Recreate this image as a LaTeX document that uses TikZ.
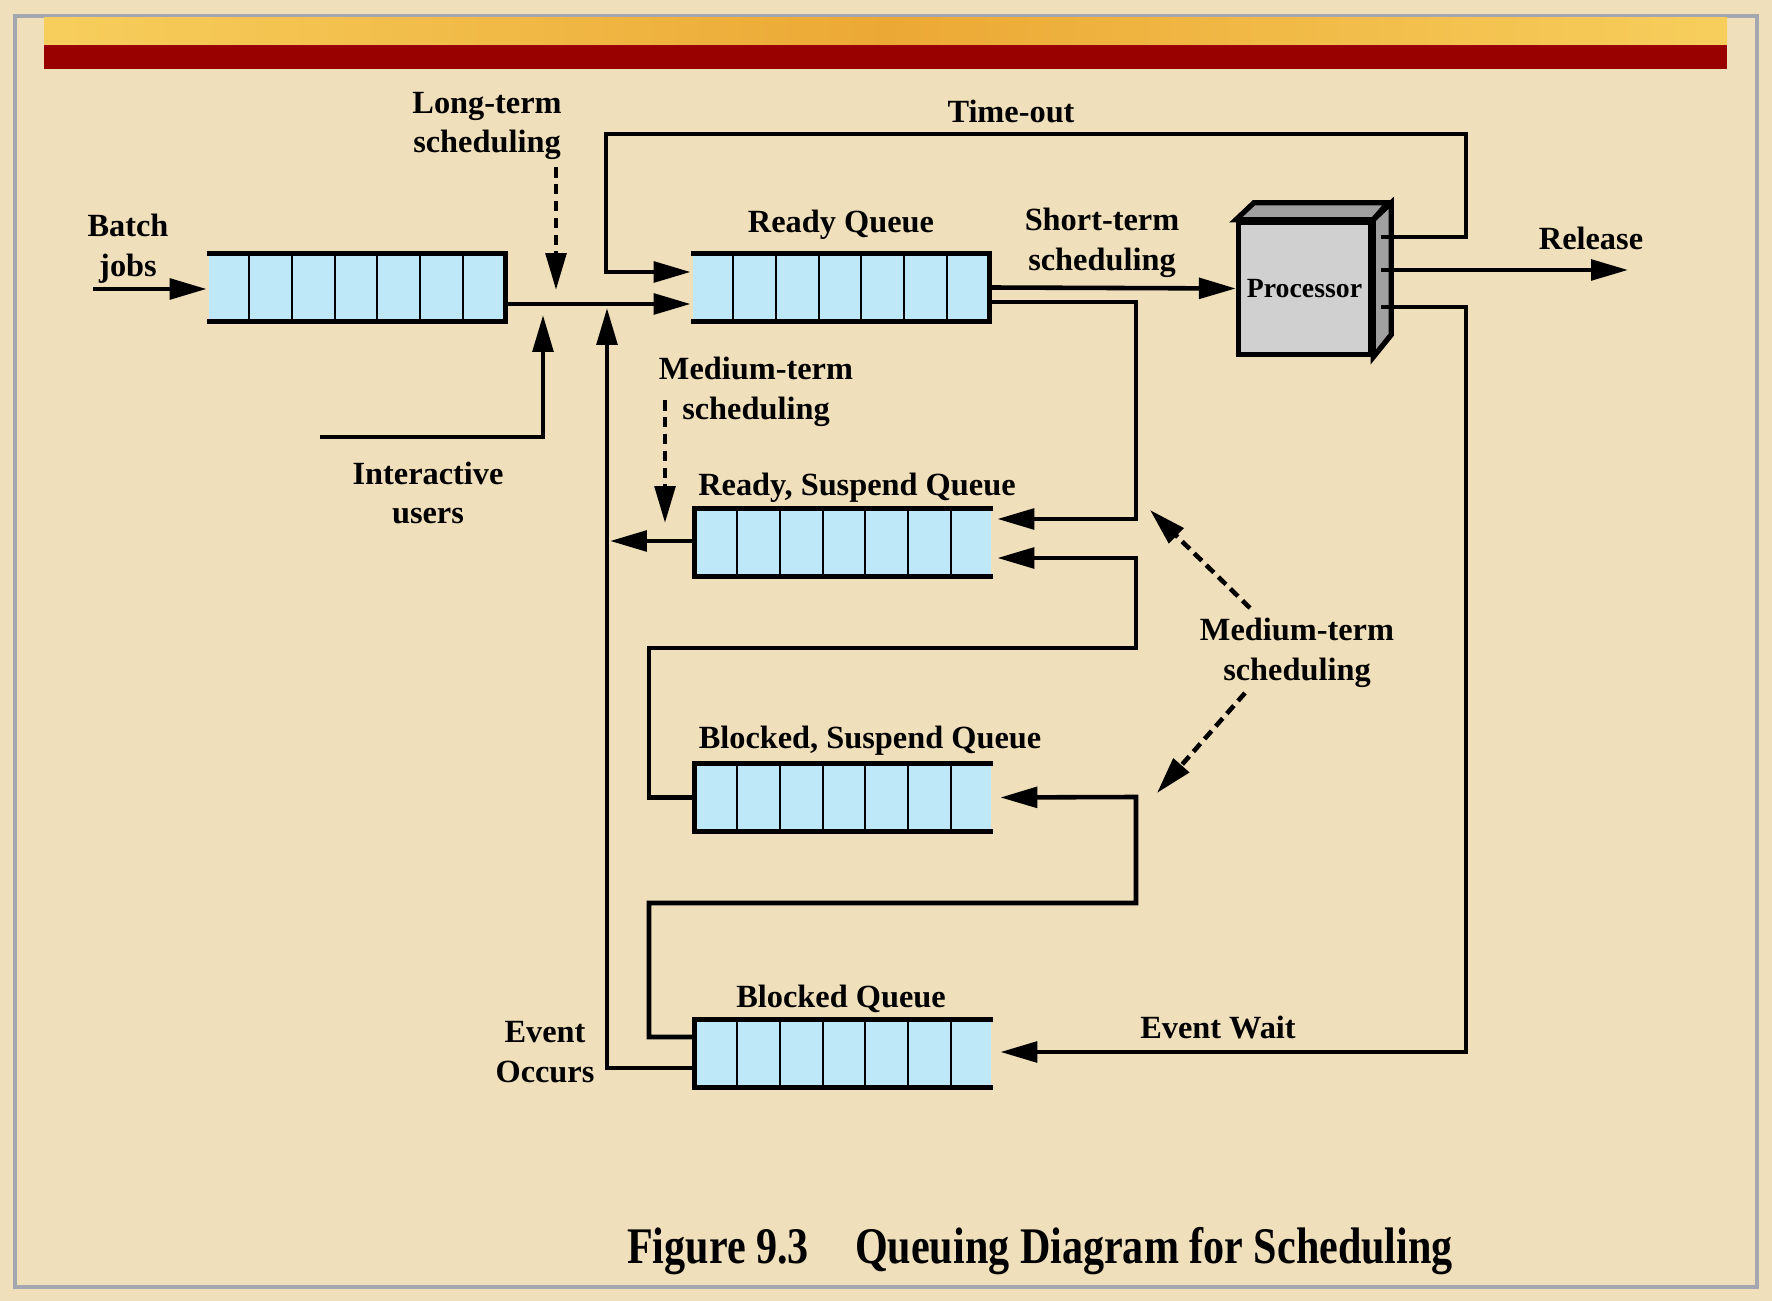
\documentclass[tikz,border=0pt]{standalone}
\usepackage{fontspec}
\setmainfont{Liberation Serif}
\usetikzlibrary{arrows.meta,calc}

\definecolor{paper}{RGB}{239,223,186}
\definecolor{frame}{RGB}{164,166,176}
\definecolor{bannerred}{RGB}{153,0,0}
\definecolor{bannerA}{RGB}{247,206,92}
\definecolor{bannerB}{RGB}{236,168,52}
\definecolor{qblue}{RGB}{190,232,248}
\definecolor{cpufront}{RGB}{208,208,208}
\definecolor{cpuside}{RGB}{160,160,160}

\begin{document}
\begin{tikzpicture}[
     x = 0.01cm,
     y = -0.01cm,
     font = \fontsize{9.2}{11.3}\selectfont\bfseries,
     line width = 1.3pt,
     >={Triangle[length=10.5pt,width=5.8pt]}
    ]
    \tikzstyle{queue}=[fill=qblue, minimum width=2.94cm, minimum height=0.64cm, inner sep=0pt]
    \tikzstyle{rim}=[line width=1.5pt]
    \tikzstyle{divider}=[line width=0.65pt]
    \tikzstyle{label}=[align=center, inner sep=0pt]
    \tikzstyle{sched}=[->, dash pattern=on 3pt off 1.8pt]

    % background and banner
    \useasboundingbox (0,0) rectangle (1772,1301);
    \fill[paper] (0,0) rectangle (1772,1301);
    \draw[frame, line width=0.9pt] (15,16) rectangle (1757,1287);
    \shade[left color=bannerA, right color=bannerA, middle color=bannerB] (44,18) rectangle (1727,45);
    \fill[bannerred] (44,45) rectangle (1727,69);

    % queues
    \node[queue] (bq) at (356,287.5) {};
    \node[queue] (rq) at (840,287.5) {};
    \node[queue] (rs) at (844,542.5) {};
    \node[queue] (bs) at (844,797.5) {};
    \node[queue] (bl) at (844,1053.5) {};
    \foreach \q in {bq,rq,rs,bs,bl}
      \foreach \i in {1,...,6}
        \draw[divider] ($(\q.north west)!\i/7!(\q.north east)$) -- ($(\q.south west)!\i/7!(\q.south east)$);
    \foreach \q in {bq,rq}
      \draw[rim] (\q.north west) -- (\q.north east) -- (\q.south east) -- (\q.south west);
    \foreach \q in {rs,bs,bl}
      \draw[rim] (\q.north east) -- (\q.north west) -- (\q.south west) -- (\q.south east);

    % processor
    \node[draw, fill=cpufront, rim, minimum width=1.32cm, minimum height=1.32cm, inner sep=0pt,
          font=\fontsize{7.9}{9}\selectfont\bfseries] (cpu) at (1304.5,288.5) {Processor};
    \draw[rim, fill=cpuside] (cpu.north west) -- ++(18,-17) -- ++(134,0) -- (cpu.north east) -- cycle;
    \draw[rim, fill=cpuside] (cpu.north east) -- ++(18,-17) -- ++(0,132) -- (cpu.south east) -- cycle;
    \coordinate (out1) at (1381,237);
    \coordinate (out2) at (1381,270);
    \coordinate (out3) at (1381,307);

    % free ends
    \coordinate (batch) at (93,289);
    \coordinate (inter) at (320,437);
    \coordinate (release) at (1628,270);

    % connectors
    \draw[->] (batch) -- (bq.west |- batch);
    \draw[->] (bq.east |- 0,304) -- (rq.west |- 0,304);
    \draw[->] (inter) -| (543,315);
    \draw[->] (out1) -| (1466,134) -| (606,272) -- (rq.west |- 0,272);
    \draw[->] (rq.east) -- (cpu.west);
    \draw[->] (out2) -- (release);
    \draw[->] (out3) -| (1466,1052) -- ([xshift=0.07cm]bl.east |- 0,1052);
    \draw[->] (rq.east |- 0,302) -| (1136,519) -- ([xshift=0.04cm]rs.east |- 0,519);
    \draw[->] (bs.west) -| (649,648) -| (1136,558) -- ([xshift=0.04cm]rs.east |- 0,558);
    \draw[->] (bl.west |- 0,1037) -| (649,903) -| (1136,797) -- ([xshift=0.07cm]bs.east);
    \draw[->] (rs.west |- 0,541) -- (610,541);
    \draw[->] (bl.west |- 0,1068) -| (607,308);

    % scheduling arrows
    \coordinate (lt) at (556,167);
    \coordinate (mt1) at (665,400);
    \coordinate (mt2) at (1250,608);
    \coordinate (mt3) at (1245,693);
    \draw[sched] (lt) -- (556,290);
    \draw[sched] (mt1) -- (665,523);
    \draw[sched] (mt2) -- (1150,510);
    \draw[sched] (mt3) -- (1157,793);

    % labels
    \node[label] (ltl) at (487,126) {Long-term\\scheduling};
    \node[label] (tol) at (1011,111) {Time-out};
    \node[label] (bjl) at (128,249) {Batch\\jobs};
    \node[label] (rql) at (841,225) {Ready Queue};
    \node[label] (stl) at (1102,243) {Short-term\\scheduling};
    \node[label] (rel) at (1591,238) {Release};
    \node[label] (iul) at (428,493) {Interactive\\users};
    \node[label] (mtl) at (756,392) {Medium-term\\scheduling};
    \node[label] (rsl) at (857,488) {Ready, Suspend Queue};
    \node[label] (mtr) at (1297,653) {Medium-term\\scheduling};
    \node[label] (bsl) at (870,741) {Blocked, Suspend Queue};
    \node[label] (bll) at (841,999) {Blocked Queue};
    \node[label] (eol) at (545,1052) {Event\\Occurs};
    \node[label] (ewl) at (1218,1028) {Event Wait};
    \node[label, font=\fontsize{14.6}{17}\selectfont\bfseries] (cap) at (1040,1251)
      {\scalebox{0.82}[1]{Figure 9.3\hspace{1.1em}Queuing Diagram for Scheduling}};
\end{tikzpicture}
\end{document}
